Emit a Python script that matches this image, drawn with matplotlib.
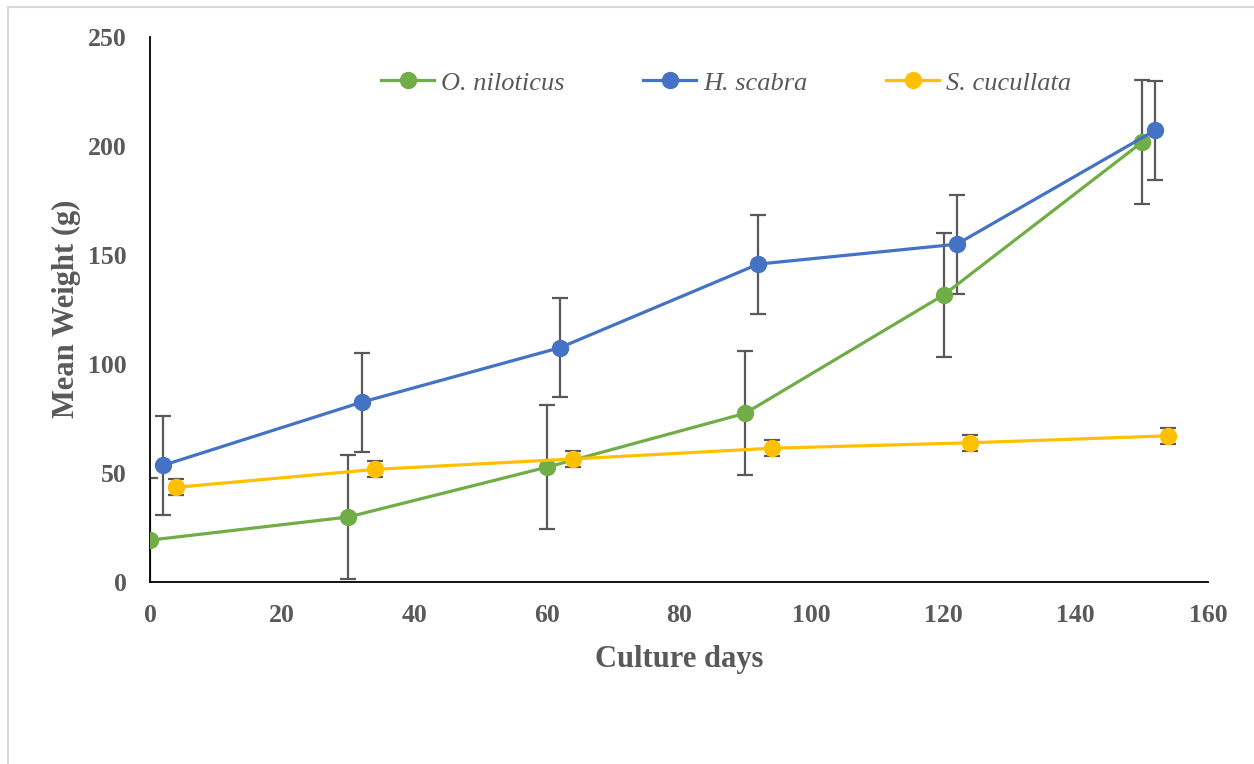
import matplotlib
matplotlib.use("Agg")
import matplotlib.pyplot as plt
from matplotlib.lines import Line2D

# culture days (each species is offset a little so the error bars don't overlap)
days_on = [0, 30, 60, 90, 120, 150]
days_hs = [2, 32, 62, 92, 122, 152]
days_sc = [4, 34, 64, 94, 124, 154]

# mean weight (g)
w_on = [19.2, 29.8, 52.6, 77.3, 131.5, 201.5]
w_hs = [53.5, 82.4, 107.4, 145.7, 154.8, 207.0]
w_sc = [43.4, 51.6, 56.4, 61.3, 63.8, 67.0]

# error (g)
err_on = [28.4, 28.4, 28.4, 28.4, 28.4, 28.4]
err_hs = [22.7, 22.7, 22.7, 22.7, 22.7, 22.7]
err_sc = [3.7, 3.7, 3.7, 3.7, 3.7, 3.7]

labels = ['O. niloticus', 'H. scabra', 'S. cucullata']
colors = ['#70AD47', '#4472C4', '#FFC000']
gray = '#595959'

plt.rcParams['font.family'] = ['Liberation Serif', 'DejaVu Serif']

fig = plt.figure(figsize=(12.54, 7.64), dpi=100)
ax = fig.add_axes([150 / 1254, 1 - 582 / 764, 1058 / 1254, 545.5 / 764])

series = [(days_on, w_on, err_on), (days_hs, w_hs, err_hs), (days_sc, w_sc, err_sc)]
for (x, y, e), c in zip(series, colors):
    ax.errorbar(x, y, yerr=e, fmt='none', ecolor=gray, elinewidth=1.6,
                capsize=5.5, capthick=1.6, zorder=2)
    ax.plot(x, y, '-o', color=c, lw=2.3, markersize=11.5, zorder=3)

ax.set_xlim(0, 160)
ax.set_ylim(0, 250)
ax.set_xticks(range(0, 161, 20))
ax.set_yticks(range(0, 251, 50))

for s in ['top', 'right']:
    ax.spines[s].set_visible(False)
for s in ['left', 'bottom']:
    ax.spines[s].set_color('black')
    ax.spines[s].set_linewidth(1.3)

ax.tick_params(axis='both', length=0, labelcolor=gray, labelsize=18.5)
ax.tick_params(axis='y', pad=17)
ax.tick_params(axis='x', pad=16)
for lab in ax.get_xticklabels() + ax.get_yticklabels():
    lab.set_fontweight('bold')

ax.set_xlabel('Culture days', fontsize=22, fontweight='bold', color=gray, labelpad=13)
ax.set_ylabel('Mean Weight (g)', fontsize=22, fontweight='bold', color=gray, labelpad=5)

handles = [Line2D([], [], color=c, lw=2.3, marker='o', markersize=11.5) for c in colors]
leg = ax.legend(handles, labels, loc='center', bbox_to_anchor=(0.5445, 0.915), ncol=3,
                frameon=False, handlelength=2.0, handletextpad=0.25, columnspacing=3.0,
                prop={'style': 'italic', 'size': 19})
for t in leg.get_texts():
    t.set_color(gray)

# light frame around the chart area
fig.add_artist(Line2D([8 / 1254, 1], [1 - 7 / 764, 1 - 7 / 764], color='#d9d9d9', lw=1.5))
fig.add_artist(Line2D([8 / 1254, 8 / 1254], [0, 1 - 7 / 764], color='#d9d9d9', lw=1.5))

fig.savefig('out.png', dpi=100)
